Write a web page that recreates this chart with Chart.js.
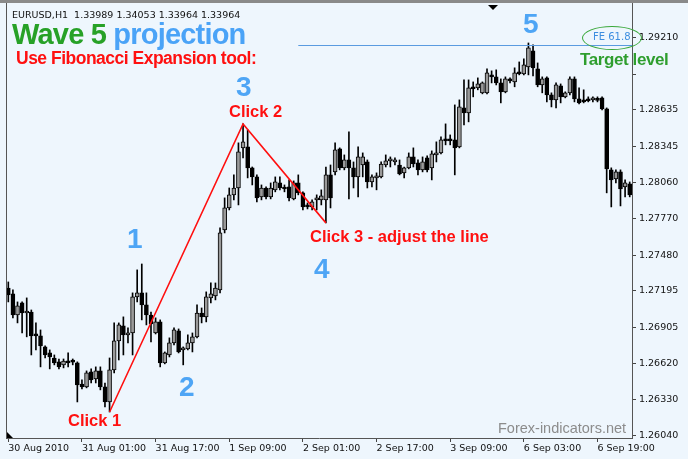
<!DOCTYPE html>
<html>
<head>
<meta charset="utf-8">
<script src="https://cdn.jsdelivr.net/npm/chart.js@4/dist/chart.umd.min.js"></script>
<style>
  body { margin: 0; background: #eef6fd; }
  #wrap { position: relative; width: 688px; height: 459px; overflow: hidden; background: #eef6fd; }
  #c { position: absolute; left: 0; top: 0; }
  .t { position: absolute; white-space: nowrap; line-height: 1; font-family: "Liberation Sans", Arial, sans-serif; font-weight: bold; }
  .red { color: #ff1010; font-size: 16.5px; }
  .num { color: #4ea5f5; font-size: 28px; }
  #topbar { position: absolute; left: 0; top: 0; width: 688px; height: 3px; background: #8a8a8a; }
  #ring { position: absolute; left: 582px; top: 26px; width: 58px; height: 22px; border: 1.5px solid #3aa83a; border-radius: 50%; }
</style>
</head>
<body>
<div id="wrap">
  <canvas id="c" width="688" height="459"></canvas>
  <div id="topbar"></div>
  <div class="t" style="left:12px;top:10px;font-family:'DejaVu Sans';font-weight:normal;font-size:9.5px;color:#111">EURUSD,H1&nbsp; 1.33989 1.34053 1.33964 1.33964</div>
  <div class="t" style="left:12px;top:19.5px;font-size:29px;letter-spacing:-0.8px"><span style="color:#27a127">Wave 5</span> <span style="color:#4aa3f7">projection</span></div>
  <div class="t" style="left:16px;top:49.7px;font-size:17.5px;letter-spacing:-0.5px;color:#ff1010">Use Fibonacci Expansion tool:</div>
  <div class="t red" style="left:68px;top:412px">Click 1</div>
  <div class="t red" style="left:229px;top:103px">Click 2</div>
  <div class="t red" style="left:310px;top:228px">Click 3 - adjust the line</div>
  <div class="t num" style="left:127px;top:225px">1</div>
  <div class="t num" style="left:179px;top:373px">2</div>
  <div class="t num" style="left:236px;top:72.5px">3</div>
  <div class="t num" style="left:314px;top:254.5px">4</div>
  <div class="t num" style="left:523px;top:9.5px">5</div>
  <div class="t" style="left:580px;top:51px;font-size:17px;letter-spacing:-0.4px;color:#2e9e2e">Target level</div>
  <div id="ring"></div>
  <div class="t" style="left:593px;top:31.8px;font-family:'DejaVu Sans';font-weight:normal;font-size:10px;color:#3d8ee0">FE 61.8</div>
  <div class="t" style="left:498px;top:421px;font-weight:normal;font-size:14.5px;color:#8c8c8c">Forex-indicators.net</div>
</div>
<script>
// EURUSD H1, 30 Aug - 7 Sep 2010
var open = [
  1.27218,1.27171,1.27003,1.27099,1.27019,1.27027,1.26845,1.26837,1.26749,1.26701,
  1.26661,1.26630,1.26606,1.26630,1.26630,1.26622,1.26454,1.26431,1.26550,1.26494,
  1.26558,1.26431,1.26311,1.26566,1.26797,1.26916,1.26845,1.26860,1.27147,1.27179,
  1.27083,1.27003,1.26860,1.26948,1.26622,1.26685,1.26781,1.26876,1.26725,
  1.26733,1.26781,1.26829,1.27019,1.26988,1.27139,1.27155,1.27203,1.27680,1.27855,
  1.27959,1.28014,1.28333,1.28341,1.28174,1.28102,1.27943,1.28014,1.27943,1.27999,
  1.28054,1.28014,1.28022,1.27927,1.28054,1.27975,1.27879,1.27863,1.27919,1.27919,
  1.27919,1.28118,1.28142,1.28325,1.28174,1.28237,1.28174,1.28102,1.28197,1.28221,
  1.28062,1.28094,1.28102,1.28197,1.28229,1.28221,1.28197,1.28134,1.28174,1.28261,
  1.28213,1.28158,1.28253,1.28174,1.28277,1.28293,1.28397,1.28397,1.28397,1.28341,
  1.28651,1.28611,1.28811,1.28811,1.28771,1.28771,1.28914,1.28898,1.28850,1.28779,
  1.28882,1.28858,1.28930,1.28922,1.28977,1.29105,1.28962,1.28834,1.28890,1.28755,
  1.28715,1.28826,1.28739,1.28771,1.28882,1.28723,1.28715,1.28715,1.28715,1.28715,
  1.28731,1.28643,1.28158,1.28086,1.28142,1.28022,1.28046];
var high = [
  1.27266,1.27203,1.27107,1.27107,1.27139,1.27043,1.26940,1.26884,1.26757,1.26725,
  1.26685,1.26653,1.26653,1.26701,1.26653,1.26630,1.26486,1.26558,1.26574,1.26590,
  1.26590,1.26462,1.26661,1.26940,1.26940,1.26988,1.26900,1.27179,1.27362,1.27409,
  1.27179,1.27027,1.26980,1.26964,1.26709,1.26821,1.26900,1.26892,1.26749,
  1.26845,1.26860,1.27083,1.27059,1.27187,1.27258,1.27258,1.27696,1.27935,1.28014,
  1.28118,1.28373,1.28524,1.28476,1.28181,1.28118,1.28038,1.28022,1.28054,1.28102,
  1.28102,1.28038,1.28078,1.28070,1.28118,1.27983,1.27895,1.27919,1.27959,1.27999,
  1.28181,1.28197,1.28373,1.28333,1.28277,1.28460,1.28221,1.28341,1.28293,1.28237,
  1.28118,1.28134,1.28221,1.28277,1.28261,1.28253,1.28237,1.28181,1.28293,1.28333,
  1.28237,1.28261,1.28269,1.28309,1.28381,1.28420,1.28524,1.28436,1.28675,1.28715,
  1.28874,1.28874,1.28858,1.28890,1.28858,1.28962,1.28946,1.28954,1.28882,1.28898,
  1.28890,1.28970,1.29017,1.29041,1.29168,1.29153,1.29009,1.28898,1.28898,1.28771,
  1.28850,1.28842,1.28779,1.28898,1.28898,1.28811,1.28795,1.28739,1.28739,1.28739,
  1.28739,1.28651,1.28174,1.28158,1.28158,1.28078,1.28062];
var low = [
  1.27107,1.26980,1.26940,1.26860,1.26829,1.26685,1.26725,1.26590,1.26661,1.26574,
  1.26606,1.26574,1.26582,1.26590,1.26606,1.26311,1.26415,1.26423,1.26462,1.26462,
  1.26407,1.26271,1.26231,1.26542,1.26645,1.26685,1.26781,1.26685,1.27107,1.26964,
  1.26924,1.26789,1.26852,1.26590,1.26614,1.26669,1.26765,1.26701,1.26606,
  1.26725,1.26709,1.26821,1.26940,1.26948,1.27099,1.27123,1.27179,1.27656,1.27839,
  1.27919,1.27879,1.28253,1.28094,1.28038,1.27903,1.27919,1.27927,1.27927,1.27983,
  1.27999,1.27983,1.27911,1.27919,1.27959,1.27839,1.27847,1.27839,1.27839,1.27879,
  1.27736,1.27855,1.28118,1.28158,1.28158,1.27927,1.28014,1.27943,1.28102,1.28014,
  1.28022,1.27999,1.28094,1.28181,1.28181,1.28197,1.28118,1.28094,1.28166,1.28181,
  1.28118,1.28142,1.28142,1.28078,1.28221,1.28285,1.28357,1.28357,1.28118,1.28333,
  1.28516,1.28540,1.28739,1.28795,1.28763,1.28763,1.28850,1.28834,1.28691,1.28771,
  1.28850,1.28819,1.28914,1.28914,1.28914,1.28906,1.28819,1.28771,1.28699,1.28659,
  1.28651,1.28691,1.28731,1.28755,1.28699,1.28683,1.28691,1.28699,1.28699,1.28699,
  1.28635,1.27975,1.27863,1.28054,1.27871,1.27943,1.27943];
var close = [
  1.27163,1.27003,1.27075,1.27019,1.27035,1.26837,1.26837,1.26757,1.26685,1.26669,
  1.26622,1.26590,1.26637,1.26622,1.26628,1.26446,1.26431,1.26542,1.26486,1.26558,
  1.26431,1.26311,1.26566,1.26797,1.26924,1.26845,1.26860,1.27147,1.27179,1.27083,
  1.27003,1.26932,1.26948,1.26622,1.26701,1.26781,1.26884,1.26709,1.26741,
  1.26781,1.26829,1.27019,1.26988,1.27147,1.27171,1.27218,1.27656,1.27855,1.27959,
  1.28014,1.28301,1.28381,1.28174,1.28102,1.27935,1.28014,1.27943,1.28014,1.28062,
  1.28014,1.28006,1.27935,1.28054,1.27975,1.27863,1.27863,1.27903,1.27927,1.27951,
  1.28118,1.27935,1.28317,1.28174,1.28237,1.28174,1.28102,1.28261,1.28261,1.28062,
  1.28102,1.28102,1.28205,1.28229,1.28237,1.28229,1.28126,1.28174,1.28261,1.28205,
  1.28158,1.28221,1.28158,1.28285,1.28293,1.28397,1.28389,1.28389,1.28333,1.28659,
  1.28611,1.28811,1.28803,1.28842,1.28850,1.28930,1.28898,1.28850,1.28779,1.28882,
  1.28866,1.28930,1.28922,1.28993,1.29129,1.28970,1.28834,1.28882,1.28755,1.28715,
  1.28834,1.28739,1.28771,1.28882,1.28723,1.28691,1.28699,1.28707,1.28723,1.28711,
  1.28643,1.28166,1.28078,1.28142,1.28006,1.28054,1.27959];

// one time label every 16 bars
var timeLabels = ["30 Aug 2010","31 Aug 01:00","31 Aug 17:00","1 Sep 09:00","2 Sep 01:00",
                  "2 Sep 17:00","3 Sep 09:00","6 Sep 03:00","6 Sep 19:00"];
var labelStep = 16;

// price scale marks (the one under "Target level" has no text)
var priceTicks  = [1.29210,1.28920,1.28635,1.28345,1.28060,1.27770,1.27480,1.27195,1.26905,1.26620,1.26330,1.26040];
var priceLabels = ["1.29210","","1.28635","1.28345","1.28060","1.27770","1.27480","1.27195","1.26905","1.26620","1.26330","1.26040"];

// fibo expansion: click 1 = low, click 2 = high, click 3 = low
var clickBars = [22, 51, 69];
var feRatio = 0.618;
var feStartBar = 63;

var c1 = low[clickBars[0]], c2 = high[clickBars[1]], c3 = low[clickBars[2]];
var feLevel = c3 + feRatio * (c2 - c1);

var cats = open.map(function(v, i){ return i % labelStep === 0 ? timeLabels[i / labelStep] : ""; });
var bodies = open.map(function(o, i){ return [o, close[i]]; });
var wicks = low.map(function(l, i){ return [l, high[i]]; });
var bodyColor = open.map(function(o, i){ return close[i] >= o ? "#9a9a9a" : "#000000"; });
var fiboLine = open.map(function(){ return null; });
fiboLine[clickBars[0]] = c1;
fiboLine[clickBars[1]] = c2;
fiboLine[clickBars[2]] = c3;

var extras = {
  id: "extras",
  beforeDraw: function(chart){
    var ctx = chart.ctx;
    ctx.save();
    ctx.fillStyle = "#eef6fd";
    ctx.fillRect(0, 0, chart.width, chart.height);
    ctx.restore();
  },
  afterDatasetsDraw: function(chart){
    var ctx = chart.ctx, a = chart.chartArea;
    var x = chart.scales.x, y = chart.scales.y;
    ctx.save();
    // FE 61.8 level
    var ly = Math.round(y.getPixelForValue(feLevel)) + 0.5;
    ctx.strokeStyle = "#5a9be0";
    ctx.lineWidth = 1;
    ctx.beginPath();
    ctx.moveTo(x.getPixelForValue(feStartBar), ly);
    ctx.lineTo(a.right, ly);
    ctx.stroke();
    // frame
    ctx.strokeStyle = "#555";
    ctx.beginPath();
    ctx.moveTo(a.left + 0.5, a.top);
    ctx.lineTo(a.left + 0.5, a.bottom);
    ctx.stroke();
    // shift markers
    ctx.fillStyle = "#000";
    ctx.beginPath();
    ctx.moveTo(a.left + 1, a.bottom - 6);
    ctx.lineTo(a.left + 1, a.bottom);
    ctx.lineTo(a.left + 7, a.bottom);
    ctx.fill();
    ctx.beginPath();
    ctx.moveTo(488, a.top + 2);
    ctx.lineTo(498, a.top + 2);
    ctx.lineTo(493, a.top + 7);
    ctx.fill();
    ctx.restore();
  }
};

var tickFont = { family: "DejaVu Sans", size: 9.5 };

new Chart(document.getElementById("c"), {
  type: "bar",
  data: {
    labels: cats,
    datasets: [
      {
        type: "line",
        data: fiboLine,
        spanGaps: true,
        borderColor: "#ff1010",
        borderWidth: 1.6,
        pointRadius: 0,
        tension: 0
      },
      {
        data: bodies,
        backgroundColor: bodyColor,
        borderColor: "#000",
        borderWidth: 1,
        borderSkipped: false,
        barThickness: 4,
        minBarLength: 2,
        grouped: false
      },
      {
        data: wicks,
        backgroundColor: "#000",
        barThickness: 1,
        grouped: false
      }
    ]
  },
  options: {
    responsive: false,
    animation: false,
    devicePixelRatio: 1,
    layout: { padding: { left: 6, top: 3, right: 0, bottom: 0 } },
    plugins: { legend: { display: false }, tooltip: { enabled: false } },
    scales: {
      x: {
        offset: true,
        grid: { offset: false, drawOnChartArea: false, tickLength: 4, color: "#444" },
        border: { color: "#555" },
        ticks: {
          autoSkip: false, maxRotation: 0, align: "start", padding: 1,
          color: "#111", font: tickFont,
          callback: function(v, i){ return cats[i] ? cats[i] : null; }
        },
        afterFit: function(s){ s.height = 21; s.paddingLeft = 0; s.paddingRight = 0; }
      },
      y: {
        position: "right",
        min: 1.26024,
        max: 1.29486,
        grid: { drawOnChartArea: false, tickLength: 4, color: "#444" },
        border: { color: "#555" },
        afterBuildTicks: function(s){ s.ticks = priceTicks.map(function(v){ return { value: v }; }); },
        ticks: {
          padding: 3, color: "#111", font: tickFont,
          callback: function(v, i){ return priceLabels[i]; }
        },
        afterFit: function(s){ s.width = 56; s.paddingTop = 0; s.paddingBottom = 0; }
      }
    }
  },
  plugins: [extras]
});
</script>
</body>
</html>
